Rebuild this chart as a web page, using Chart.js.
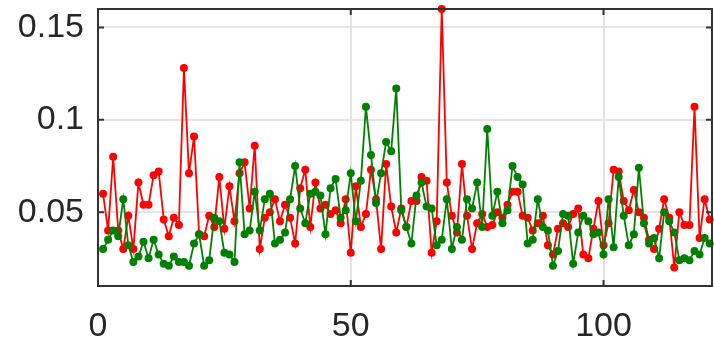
<!DOCTYPE html>
<html>
<head>
<meta charset="utf-8">
<script src="https://cdn.jsdelivr.net/npm/chart.js@4"></script>
<style>
html,body{margin:0;padding:0;background:#fff;overflow:hidden;}
#wrap{width:714px;height:343px;position:relative;overflow:hidden;}
</style>
</head>
<body>
<div id="wrap"><canvas id="c" width="716" height="343"></canvas></div>
<script>
const redValues = [
0.060,0.040,0.080,0.040,0.030,0.048,0.030,0.066,0.054,0.054,
0.070,0.072,0.046,0.037,0.047,0.043,0.128,0.071,0.091,0.038,
0.037,0.048,0.042,0.069,0.041,0.064,0.045,0.071,0.077,0.052,
0.086,0.030,0.047,0.050,0.057,0.045,0.054,0.047,0.033,0.063,
0.073,0.042,0.066,0.052,0.054,0.049,0.051,0.044,0.057,0.028,
0.064,0.042,0.049,0.073,0.057,0.030,0.076,0.053,0.039,0.052,
0.042,0.056,0.056,0.069,0.067,0.028,0.045,0.160,0.066,0.048,
0.039,0.076,0.048,0.030,0.044,0.049,0.042,0.043,0.050,0.047,
0.054,0.061,0.061,0.048,0.047,0.040,0.044,0.048,0.032,0.027,
0.041,0.044,0.042,0.049,0.052,0.027,0.025,0.041,0.056,0.032,
0.044,0.073,0.072,0.056,0.051,0.062,0.050,0.047,0.035,0.030,
0.041,0.057,0.047,0.020,0.050,0.043,0.043,0.107,0.036,0.057,
0.046];
const greenValues = [
0.030,0.035,0.040,0.037,0.057,0.032,0.023,0.026,0.034,0.025,
0.035,0.027,0.022,0.021,0.026,0.023,0.023,0.021,0.033,0.038,
0.021,0.024,0.047,0.045,0.028,0.027,0.023,0.077,0.038,0.040,
0.061,0.040,0.057,0.060,0.033,0.035,0.039,0.057,0.075,0.052,
0.044,0.060,0.061,0.059,0.038,0.063,0.068,0.047,0.051,0.071,
0.045,0.067,0.107,0.081,0.055,0.071,0.088,0.083,0.117,0.051,
0.042,0.033,0.059,0.066,0.053,0.052,0.032,0.035,0.057,0.030,
0.042,0.035,0.057,0.052,0.066,0.042,0.095,0.048,0.061,0.044,
0.051,0.075,0.069,0.065,0.033,0.035,0.057,0.042,0.040,0.021,
0.029,0.049,0.048,0.022,0.039,0.048,0.045,0.038,0.039,0.027,
0.057,0.031,0.069,0.048,0.032,0.038,0.074,0.044,0.033,0.036,
0.025,0.050,0.045,0.039,0.024,0.025,0.024,0.029,0.027,0.036,
0.033];
const xTickValues = [0, 50, 100];
const yTickValues = [0.05, 0.1, 0.15];
const yTickLabels = ['0.05', '0.1', '0.15'];

const toPoints = arr => arr.map((v, i) => ({x: i + 1, y: v}));

const AXIS_COLOR = '#333333';
const FONT = {family: '"Liberation Sans", Arial, Helvetica, sans-serif', size: 34};

const boxPlugin = {
  id: 'box',
  afterDatasetsDraw(chart) {
    const {ctx, chartArea: a, scales} = chart;
    ctx.save();
    ctx.strokeStyle = AXIS_COLOR;
    ctx.lineWidth = 2;
    ctx.strokeRect(a.left, a.top, a.right - a.left, a.bottom - a.top);
    const tl = 6;
    ctx.beginPath();
    xTickValues.forEach(v => {
      const px = scales.x.getPixelForValue(v);
      ctx.moveTo(px, a.bottom); ctx.lineTo(px, a.bottom - tl);
      ctx.moveTo(px, a.top); ctx.lineTo(px, a.top + tl);
    });
    yTickValues.forEach(v => {
      const py = scales.y.getPixelForValue(v);
      ctx.moveTo(a.left, py); ctx.lineTo(a.left + tl, py);
      ctx.moveTo(a.right, py); ctx.lineTo(a.right - tl, py);
    });
    ctx.stroke();
    ctx.restore();
  }
};

new Chart(document.getElementById('c'), {
  type: 'line',
  data: {
    datasets: [
      {
        label: 'red',
        data: toPoints(redValues),
        borderColor: '#ff0000',
        backgroundColor: '#ff0000',
        borderWidth: 1.8,
        pointRadius: 4,
        pointBorderWidth: 0,
        pointBackgroundColor: '#ff0000',
        tension: 0,
        clip: false,
        order: 1
      },
      {
        label: 'green',
        data: toPoints(greenValues),
        borderColor: '#008000',
        backgroundColor: '#008000',
        borderWidth: 1.8,
        pointRadius: 4,
        pointBorderWidth: 0,
        pointBackgroundColor: '#008000',
        tension: 0,
        clip: false,
        order: 0
      }
    ]
  },
  options: {
    responsive: false,
    animation: false,
    devicePixelRatio: 1,
    layout: {padding: {top: 9, right: 1, left: 0, bottom: 0}},
    plugins: {legend: {display: false}, tooltip: {enabled: false}},
    scales: {
      x: {
        type: 'linear',
        min: 0,
        max: 121.46,
        afterBuildTicks: s => { s.ticks = xTickValues.map(v => ({value: v})); },
        afterFit: s => { s.height = 57; s.paddingLeft = 0; s.paddingRight = 0; },
        border: {display: false},
        grid: {color: '#e4e4e4', lineWidth: 2, drawTicks: false},
        ticks: {color: '#262626', font: FONT, padding: 20, maxRotation: 0, autoSkip: false}
      },
      y: {
        type: 'linear',
        min: 0.01,
        max: 0.16,
        afterBuildTicks: s => { s.ticks = yTickValues.map(v => ({value: v})); },
        afterFit: s => { s.width = 98; s.paddingTop = 0; s.paddingBottom = 0; },
        border: {display: false},
        grid: {color: '#e4e4e4', lineWidth: 2, drawTicks: false},
        ticks: {
          color: '#262626', font: FONT, padding: 14, autoSkip: false,
          callback: (v, i) => yTickLabels[i]
        }
      }
    }
  },
  plugins: [boxPlugin]
});
</script>
</body>
</html>
